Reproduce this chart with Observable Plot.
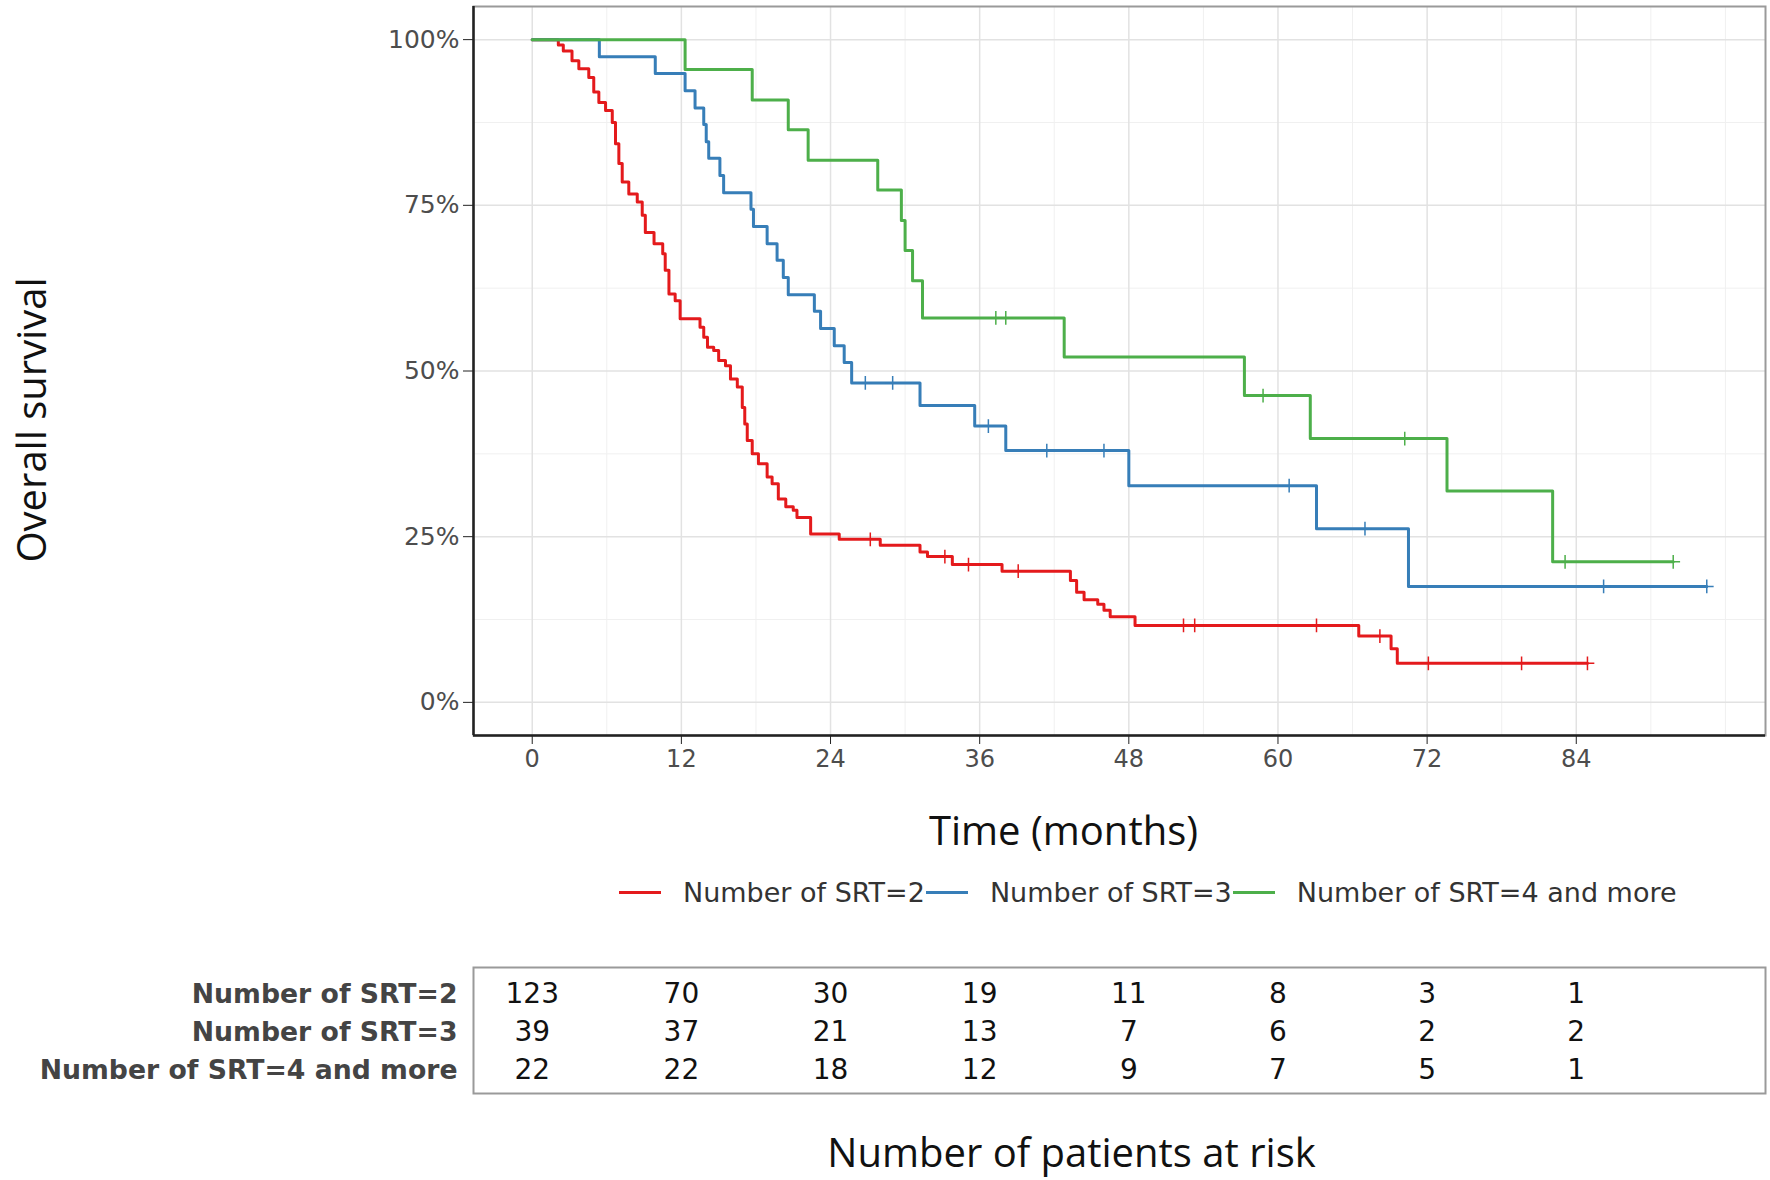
<!DOCTYPE html>
<html><head><meta charset="utf-8">
<script src="https://cdn.jsdelivr.net/npm/d3@7"></script>
<script src="https://cdn.jsdelivr.net/npm/@observablehq/plot@0.6"></script>
<style>
body{margin:0;background:#fff;}
#wrap{position:relative;width:1770px;height:1180px;overflow:hidden;background:#fff;}
#main{position:absolute;left:0;top:0;}
#legend{position:absolute;left:619px;top:874px;height:36px;display:flex;align-items:center;font-family:"DejaVu Sans";font-size:27px;color:#333;white-space:nowrap;}
.sw{width:42px;height:3px;margin-right:22px;}
.lab{margin-right:1px;}
#risk{position:absolute;left:0;top:960px;}
</style></head><body><div id="wrap"><div id="main"></div><div id="legend"></div><div id="risk"></div></div>
<script>
const groups = ["Number of SRT=2", "Number of SRT=3", "Number of SRT=4 and more"];
const colors = ["#E41A1C", "#377EB8", "#4DAF4A"];

// Kaplan-Meier steps (time in months, survival proportion)
const redTime = [0, 2.1, 2.5, 3.2, 3.75, 4.55, 4.95, 5.36, 5.9, 6.44, 6.7, 6.97, 7.24, 7.77, 8.45, 8.85, 9.1, 9.8, 10.5, 10.7, 11.0, 11.5, 11.9, 13.5, 13.8, 14.1, 14.6, 15.0, 15.55, 15.95, 16.5, 16.9, 17.1, 17.3, 17.7, 18.2, 18.9, 19.3, 19.8, 20.4, 21.0, 21.3, 22.4, 24.7, 28.0, 31.2, 31.8, 33.8, 37.8, 43.3, 43.8, 44.4, 45.5, 46.0, 46.5, 48.5, 66.5, 69.1, 69.6, 84.9];
const redSurv = [1, .992, .983, .968, .956, .943, .921, .905, .893, .875, .843, .813, .785, .767, .755, .735, .709, .692, .677, .652, .616, .606, .579, .566, .551, .536, .531, .516, .508, .488, .476, .445, .42, .395, .375, .36, .34, .33, .307, .295, .29, .279, .254, .246, .237, .227, .22, .208, .198, .184, .166, .155, .148, .139, .129, .116, .10, .081, .059, .059];
const blueTime = [0, 5.4, 9.9, 12.3, 13.1, 13.8, 14.0, 14.2, 15.1, 15.4, 17.6, 17.8, 18.9, 19.7, 20.2, 20.6, 22.7, 23.2, 24.3, 25.1, 25.7, 31.2, 35.6, 38.1, 48.0, 63.1, 70.5, 94.5];
const blueSurv = [1, .974, .949, .923, .897, .872, .846, .821, .795, .769, .744, .718, .692, .667, .641, .615, .590, .564, .538, .513, .482, .448, .417, .380, .327, .262, .175, .175];
const greenTime = [0, 12.3, 17.7, 20.6, 22.2, 27.8, 29.7, 30.0, 30.6, 31.4, 42.8, 57.3, 62.6, 73.6, 82.1, 91.8];
const greenSurv = [1, .955, .909, .864, .818, .773, .727, .682, .636, .58, .521, .463, .398, .319, .212, .212];

// censoring marks (months)
const redCens = [27.2, 33.2, 35.1, 39.1, 52.4, 53.3, 63.1, 68.2, 72.1, 79.6, 84.9];
const blueCens = [26.8, 29.0, 36.7, 41.4, 46.0, 60.9, 67.0, 86.2, 94.5];
const greenCens = [37.3, 38.1, 58.8, 70.2, 83.1, 91.8];

// axis ticks
const xTicks = [0, 12, 24, 36, 48, 60, 72, 84];
const yTicks = [0, 0.25, 0.5, 0.75, 1];

// number at risk table
const riskTimes = [0, 12, 24, 36, 48, 60, 72, 84];
const risk2 = [123, 70, 30, 19, 11, 8, 3, 1];
const risk3 = [39, 37, 21, 13, 7, 6, 2, 2];
const risk4 = [22, 22, 18, 12, 9, 7, 5, 1];

const times = [redTime, blueTime, greenTime];
const survs = [redSurv, blueSurv, greenSurv];
const censs = [redCens, blueCens, greenCens];
const risks = [risk2, risk3, risk4];

const maxT = d3.max(times.flat());
const pad = maxT * 0.05;
const xDomain = [-pad, maxT + pad];
const yDomain = [-0.05, 1.05];

const curves = [];
groups.forEach((g, i) => times[i].forEach((t, j) => curves.push({group: g, t, s: survs[i][j]})));
function survAt(ts, ss, t) { let s = 1; for (let k = 0; k < ts.length; k++) if (ts[k] <= t) s = ss[k]; return s; }
const cens = [];
groups.forEach((g, i) => censs[i].forEach(t => cens.push({group: g, t, s: survAt(times[i], survs[i], t)})));

const minorX = d3.range(0, 97, 6).filter(v => !xTicks.includes(v));
const minorY = [0.125, 0.375, 0.625, 0.875];

const main = Plot.plot({
  width: 1770, height: 860,
  marginLeft: 473, marginRight: 5, marginTop: 6, marginBottom: 125,
  x: {domain: xDomain, label: null},
  y: {domain: yDomain, label: null},
  color: {domain: groups, range: colors},
  style: {fontFamily: "DejaVu Sans", background: "#fff", color: "#4d4d4d"},
  marks: [
    Plot.gridX({ticks: minorX, stroke: "#f0f0f0", strokeOpacity: 1, strokeWidth: 1}),
    Plot.gridY({ticks: minorY, stroke: "#f0f0f0", strokeOpacity: 1, strokeWidth: 1}),
    Plot.gridX({ticks: xTicks, stroke: "#e2e2e2", strokeOpacity: 1, strokeWidth: 1.5}),
    Plot.gridY({ticks: yTicks, stroke: "#e2e2e2", strokeOpacity: 1, strokeWidth: 1.5}),
    Plot.frame({stroke: "#9a9a9a", strokeWidth: 2}),
    Plot.ruleX([xDomain[0]], {stroke: "#222", strokeWidth: 2.5}),
    Plot.ruleY([yDomain[0]], {stroke: "#222", strokeWidth: 2.5}),
    Plot.line(curves, {x: "t", y: "s", z: "group", stroke: "group", curve: "step-after", strokeWidth: 3}),
    Plot.dot(cens, {x: "t", y: "s", stroke: "group", symbol: "plus", r: 4.5, strokeWidth: 1.5}),
    Plot.axisY({ticks: yTicks, tickFormat: d => Math.round(d * 100) + "%", tickSize: 10, tickPadding: 4, fontSize: 25, label: null, stroke: "#222", fill: "#4d4d4d"}),
    Plot.axisX({ticks: xTicks, tickSize: 9, tickPadding: 5, fontSize: 24, label: null, stroke: "#222", fill: "#4d4d4d"}),
    Plot.text(["Time (months)"], {text: d => d, frameAnchor: "bottom", textAnchor: "middle", lineAnchor: "middle", dy: 97, dx: -56, fontFamily: "Open Sans", fontSize: 40, fill: "#111"}),
    Plot.text(["Overall survival"], {text: d => d, frameAnchor: "left", textAnchor: "middle", lineAnchor: "middle", rotate: -90, dx: -440, dy: 49, fontFamily: "Open Sans", fontSize: 40, fill: "#111"})
  ]
});
document.getElementById("main").append(main);

const legend = document.getElementById("legend");
groups.forEach((g, i) => {
  const sw = document.createElement("span"); sw.className = "sw"; sw.style.background = colors[i];
  const lab = document.createElement("span"); lab.className = "lab"; lab.textContent = g;
  legend.append(sw, lab);
});

const riskRows = [];
groups.forEach((g, i) => riskTimes.forEach((t, j) => riskRows.push({group: g, t, n: risks[i][j]})));
const riskPlot = Plot.plot({
  width: 1770, height: 220,
  marginLeft: 473, marginRight: 5, marginTop: 7, marginBottom: 87,
  x: {domain: xDomain, axis: null},
  y: {type: "point", domain: groups, padding: 0.64, axis: null},
  style: {fontFamily: "DejaVu Sans", background: "#fff", color: "#111"},
  marks: [
    Plot.frame({stroke: "#9a9a9a", strokeWidth: 2}),
    Plot.text(riskRows, {x: "t", y: "group", text: "n", fontSize: 28, fill: "#111", dy: 2}),
    Plot.axisY({tickSize: 0, tickPadding: 16, fontWeight: "bold", fontSize: 26.7, fill: "#444", dy: 2, label: null}),
    Plot.text(["Number of patients at risk"], {text: d => d, frameAnchor: "bottom", textAnchor: "middle", lineAnchor: "middle", dy: 61, dx: -48, fontFamily: "Open Sans", fontSize: 40, fill: "#111"})
  ]
});
document.getElementById("risk").append(riskPlot);
</script>
</body></html>
